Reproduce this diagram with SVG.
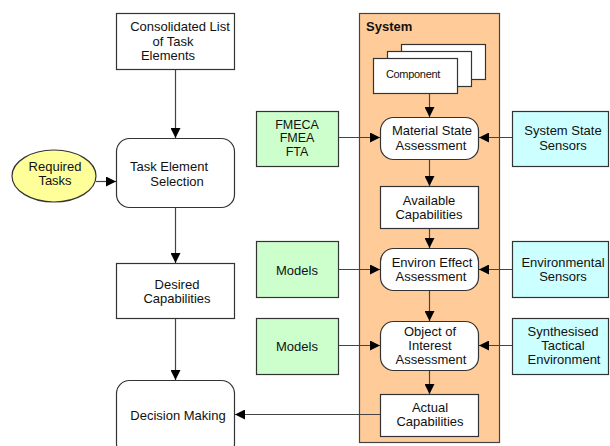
<svg xmlns="http://www.w3.org/2000/svg" width="610" height="446" viewBox="0 0 610 446">
  <defs>
    <marker id="arrow" viewBox="0 0 10 10" refX="10" refY="5" markerWidth="10" markerHeight="10" markerUnits="userSpaceOnUse" orient="auto">
      <path d="M0,0 L10,5 L0,10 Z" fill="#000"/>
    </marker>
    <style>
      text { font-family: "Liberation Sans", Arial, sans-serif; font-size: 13px; fill: #111; text-anchor: middle; }
      .box { fill: #fff; stroke: #333; stroke-width: 1.2; }
      .green { fill: #ccffcc; stroke: #333; stroke-width: 1.2; }
      .cyan { fill: #ccffff; stroke: #333; stroke-width: 1.2; }
      .sys { fill: #ffcc99; stroke: #444; stroke-width: 1.2; }
      .ell { fill: #ffff99; stroke: #333; stroke-width: 1.2; }
      .conn line, .conn path { stroke: #444; stroke-width: 1.2; fill: none; marker-end: url(#arrow); }
      .title { font-weight: bold; text-anchor: start; }
      .narrow { font-size: 11px; letter-spacing: -0.3px; }
      .tight { font-size: 12.5px; }
    </style>
  </defs>

  <!-- System container -->
  <g id="system">
    <rect class="sys" x="359.5" y="13.5" width="140" height="429"/>
    <text class="title" x="366" y="31">System</text>
  </g>

  <!-- Left column -->
  <g id="consolidated-list">
    <rect class="box" x="116.5" y="13.5" width="118" height="56"/>
    <text x="180" y="31">Consolidated List</text>
    <text x="173" y="46">of Task</text>
    <text x="168" y="60">Elements</text>
  </g>

  <g id="task-element-selection">
    <rect class="box" x="116.5" y="138.5" width="118" height="69" rx="13"/>
    <text x="169" y="171">Task Element</text>
    <text x="177" y="186">Selection</text>
  </g>

  <g id="required-tasks">
    <ellipse class="ell" cx="54" cy="176" rx="42" ry="26"/>
    <text x="55" y="171">Required</text>
    <text x="55" y="185">Tasks</text>
  </g>

  <g id="desired-capabilities">
    <rect class="box" x="116.5" y="263.5" width="118" height="55"/>
    <text x="177" y="289">Desired</text>
    <text x="177" y="303">Capabilities</text>
  </g>

  <g id="decision-making">
    <rect class="box" x="116.5" y="380.5" width="118" height="76" rx="13"/>
    <text x="178" y="420">Decision Making</text>
  </g>

  <!-- Inputs on the left of the system -->
  <g id="fmeca">
    <rect class="green" x="256.5" y="111.5" width="82" height="55"/>
    <text class="tight" x="297" y="128.5">FMECA</text>
    <text class="tight" x="297" y="142">FMEA</text>
    <text class="tight" x="297" y="155.5">FTA</text>
  </g>

  <g id="models-1">
    <rect class="green" x="256.5" y="241.5" width="82" height="56"/>
    <text x="297" y="275">Models</text>
  </g>

  <g id="models-2">
    <rect class="green" x="256.5" y="318.5" width="82" height="56"/>
    <text x="297" y="351">Models</text>
  </g>

  <!-- Sensors on the right of the system -->
  <g id="system-state-sensors">
    <rect class="cyan" x="512.5" y="111.5" width="96" height="55"/>
    <text x="563" y="135">System State</text>
    <text x="563" y="150">Sensors</text>
  </g>

  <g id="environmental-sensors">
    <rect class="cyan" x="512.5" y="241.5" width="96" height="56"/>
    <text x="563" y="267">Environmental</text>
    <text x="563" y="281">Sensors</text>
  </g>

  <g id="synthesised-tactical-environment">
    <rect class="cyan" x="512.5" y="318.5" width="96" height="56"/>
    <text x="563" y="336">Synthesised</text>
    <text x="563" y="350">Tactical</text>
    <text x="564" y="364">Environment</text>
  </g>

  <!-- Inside the system -->
  <g id="component">
    <rect class="box" x="401.5" y="44.5" width="84" height="35"/>
    <rect class="box" x="387.5" y="51.5" width="84" height="35"/>
    <rect class="box" x="373.5" y="58.5" width="84" height="35"/>
    <text class="narrow" x="413" y="78">Component</text>
  </g>

  <g id="material-state-assessment">
    <rect class="box" x="380.5" y="117.5" width="98" height="42" rx="13"/>
    <text x="432" y="135">Material State</text>
    <text x="431" y="150">Assessment</text>
  </g>

  <g id="available-capabilities">
    <rect class="box" x="380.5" y="186.5" width="98" height="42"/>
    <text x="429" y="205">Available</text>
    <text x="429" y="219">Capabilities</text>
  </g>

  <g id="environ-effect-assessment">
    <rect class="box" x="380.5" y="248.5" width="98" height="42" rx="13"/>
    <text x="432" y="267">Environ Effect</text>
    <text x="431" y="281">Assessment</text>
  </g>

  <g id="object-of-interest-assessment">
    <rect class="box" x="380.5" y="321.5" width="98" height="49" rx="13"/>
    <text x="430" y="336">Object of</text>
    <text x="430" y="350">Interest</text>
    <text x="431" y="364">Assessment</text>
  </g>

  <g id="actual-capabilities">
    <rect class="box" x="380.5" y="394.5" width="98" height="42"/>
    <text x="430" y="412">Actual</text>
    <text x="430" y="426">Capabilities</text>
  </g>

  <!-- Connectors -->
  <g class="conn" id="connectors">
    <line x1="175.5" y1="70" x2="175.5" y2="138"/>
    <line x1="96" y1="181.5" x2="116" y2="181.5"/>
    <line x1="175.5" y1="208" x2="175.5" y2="263"/>
    <line x1="175.5" y1="319" x2="175.5" y2="380"/>
    <line x1="429.5" y1="94" x2="429.5" y2="117"/>
    <line x1="339" y1="137.5" x2="380" y2="137.5"/>
    <line x1="512" y1="137.5" x2="479" y2="137.5"/>
    <line x1="429.5" y1="160" x2="429.5" y2="186"/>
    <line x1="429.5" y1="229" x2="429.5" y2="248"/>
    <line x1="339" y1="269.5" x2="380" y2="269.5"/>
    <line x1="512" y1="269.5" x2="479" y2="269.5"/>
    <line x1="429.5" y1="291" x2="429.5" y2="321"/>
    <line x1="339" y1="345.5" x2="380" y2="345.5"/>
    <line x1="512" y1="345.5" x2="479" y2="345.5"/>
    <line x1="429.5" y1="371" x2="429.5" y2="394"/>
    <line x1="380" y1="414.5" x2="235" y2="414.5"/>
  </g>
</svg>
